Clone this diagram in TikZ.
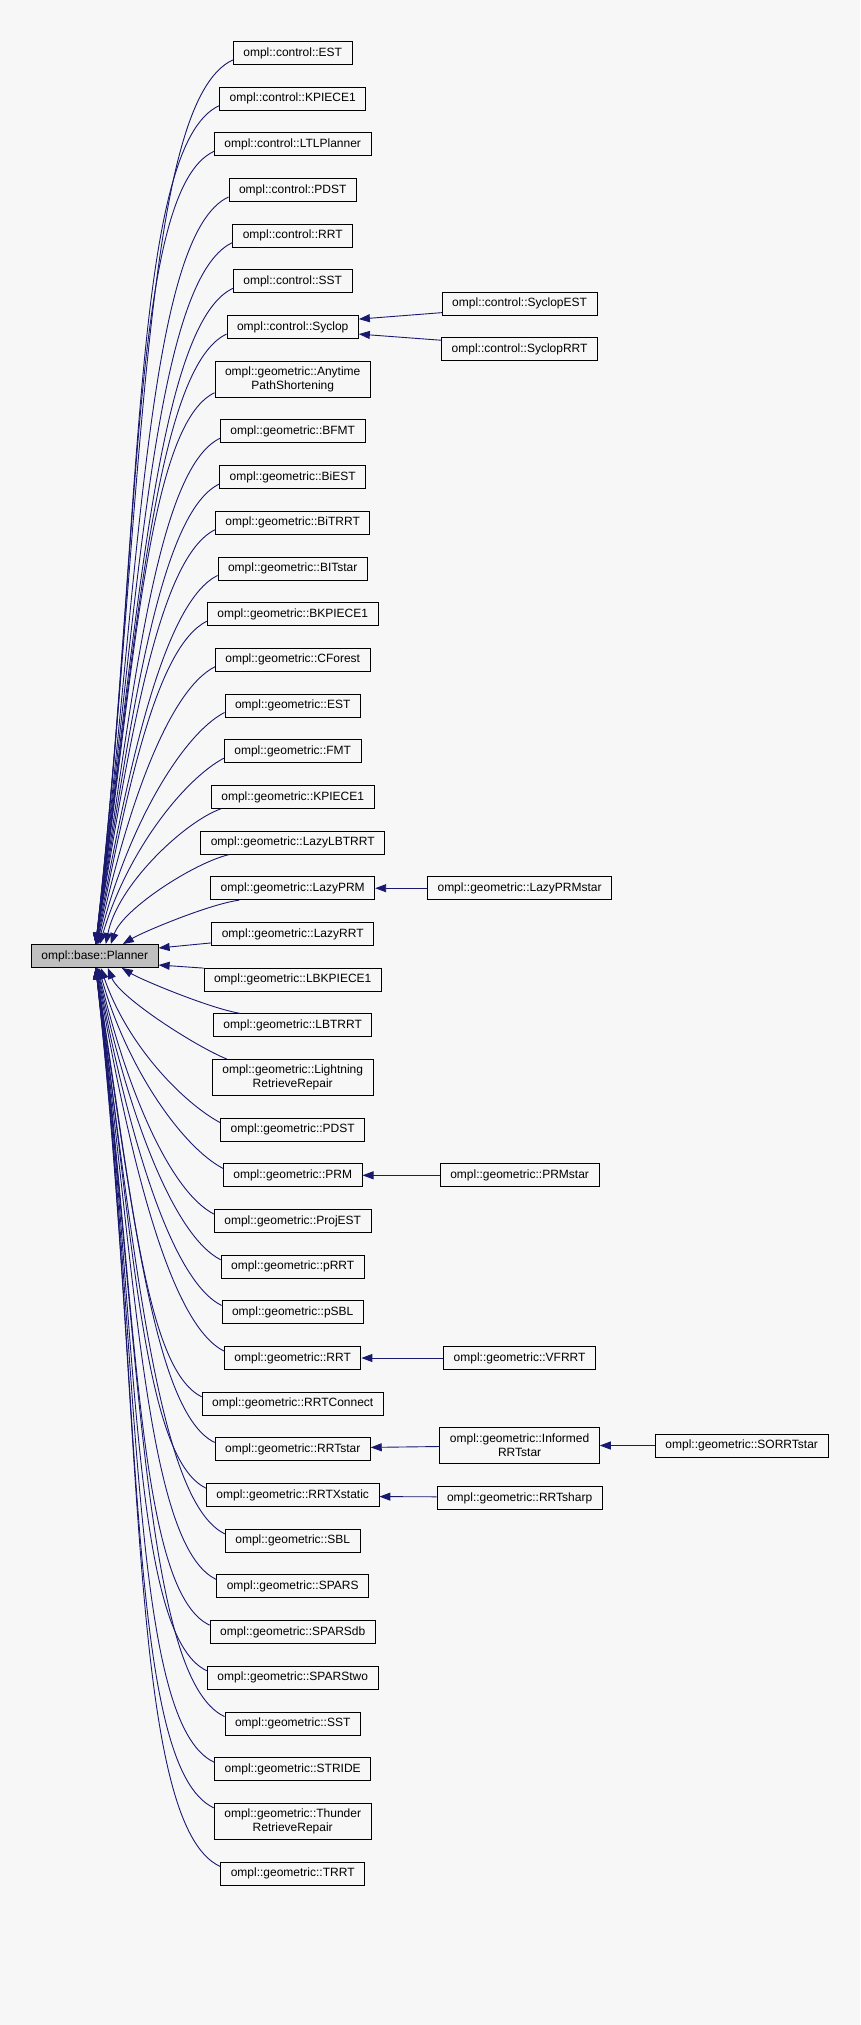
\documentclass[tikz,border=0pt]{standalone}
\usepackage{fontspec}
\setmainfont{Liberation Sans}
\usetikzlibrary{arrows.meta}
\definecolor{bgc}{HTML}{F7F7F7}
\definecolor{edgec}{HTML}{191970}
\definecolor{plfill}{HTML}{BFBFBF}
\begin{document}
\begin{tikzpicture}[x=1pt,y=-1pt,
  box/.style={draw=black, line width=0.9pt, inner xsep=10pt, inner ysep=2pt,
    minimum height=23pt, font=\fontsize{12}{14}\selectfont, align=center, text=black},
  box2/.style={box, minimum height=36pt},
  edge/.style={draw=edgec, line width=0.9pt, -{Triangle[length=11pt,width=8pt]}},
]
\fill[bgc] (0,0) rectangle (860,2025);
\useasboundingbox (0,0) rectangle (860,2025);

% base node
\node[box, fill=plfill] (pl) at (94.8,956) {ompl::base::Planner};

% left column
\node[box] (n1) at (292.7,53) {ompl::control::EST};
\node[box] (n2) at (292.7,98.7) {ompl::control::KPIECE1};
\node[box] (n3) at (292.7,144.4) {ompl::control::LTLPlanner};
\node[box] (n4) at (292.7,190) {ompl::control::PDST};
\node[box] (n5) at (292.7,235.7) {ompl::control::RRT};
\node[box] (n6) at (292.7,281.4) {ompl::control::SST};
\node[box] (n7) at (292.7,327.1) {ompl::control::Syclop};
\node[box2] (n8) at (292.7,379.3) {ompl::geometric::Anytime\\PathShortening};
\node[box] (n9) at (292.7,431.4) {ompl::geometric::BFMT};
\node[box] (n10) at (292.7,477.1) {ompl::geometric::BiEST};
\node[box] (n11) at (292.7,522.8) {ompl::geometric::BiTRRT};
\node[box] (n12) at (292.7,568.5) {ompl::geometric::BITstar};
\node[box] (n13) at (292.7,614.2) {ompl::geometric::BKPIECE1};
\node[box] (n14) at (292.7,659.8) {ompl::geometric::CForest};
\node[box] (n15) at (292.7,705.5) {ompl::geometric::EST};
\node[box] (n16) at (292.7,751.2) {ompl::geometric::FMT};
\node[box] (n17) at (292.7,796.9) {ompl::geometric::KPIECE1};
\node[box] (n18) at (292.7,842.6) {ompl::geometric::LazyLBTRRT};
\node[box] (n19) at (292.7,888.2) {ompl::geometric::LazyPRM};
\node[box] (n20) at (292.7,933.9) {ompl::geometric::LazyRRT};
\node[box] (n21) at (292.7,979.6) {ompl::geometric::LBKPIECE1};
\node[box] (n22) at (292.7,1025.3) {ompl::geometric::LBTRRT};
\node[box2] (n23) at (292.7,1077.5) {ompl::geometric::Lightning\\RetrieveRepair};
\node[box] (n24) at (292.7,1129.6) {ompl::geometric::PDST};
\node[box] (n25) at (292.7,1175.3) {ompl::geometric::PRM};
\node[box] (n26) at (292.7,1221.0) {ompl::geometric::ProjEST};
\node[box] (n27) at (292.7,1266.7) {ompl::geometric::pRRT};
\node[box] (n28) at (292.7,1312.4) {ompl::geometric::pSBL};
\node[box] (n29) at (292.7,1358.0) {ompl::geometric::RRT};
\node[box] (n30) at (292.7,1403.7) {ompl::geometric::RRTConnect};
\node[box] (n31) at (292.7,1449.4) {ompl::geometric::RRTstar};
\node[box] (n32) at (292.7,1495.1) {ompl::geometric::RRTXstatic};
\node[box] (n33) at (292.7,1540.8) {ompl::geometric::SBL};
\node[box] (n34) at (292.7,1586.4) {ompl::geometric::SPARS};
\node[box] (n35) at (292.7,1632.1) {ompl::geometric::SPARSdb};
\node[box] (n36) at (292.7,1677.8) {ompl::geometric::SPARStwo};
\node[box] (n37) at (292.7,1723.5) {ompl::geometric::SST};
\node[box] (n38) at (292.7,1769.2) {ompl::geometric::STRIDE};
\node[box2] (n39) at (292.7,1821.3) {ompl::geometric::Thunder\\RetrieveRepair};
\node[box] (n40) at (292.7,1873.5) {ompl::geometric::TRRT};

% right columns
\node[box] (r1) at (519.6,303.7) {ompl::control::SyclopEST};
\node[box] (r2) at (519.6,349.2) {ompl::control::SyclopRRT};
\node[box] (r3) at (519.6,888.2) {ompl::geometric::LazyPRMstar};
\node[box] (r4) at (519.6,1175.3) {ompl::geometric::PRMstar};
\node[box] (r5) at (519.6,1358.0) {ompl::geometric::VFRRT};
\node[box2] (r6) at (519.6,1445.5) {ompl::geometric::Informed\\RRTstar};
\node[box] (r7) at (519.6,1498.3) {ompl::geometric::RRTsharp};
\node[box] (r8) at (741.7,1445.5) {ompl::geometric::SORRTstar};

% edges from upper children
\foreach \n/\d/\xo in {n1/885.5/1, n2/839.8/1, n3/794.1/1, n4/748.5/1, n5/702.8/1,
  n6/657.1/1, n7/611.4/1, n8/552.7/1, n9/507.1/1, n10/461.4/1, n11/415.7/1,
  n12/370/1.5, n13/324.3/2, n14/278.7/2.5, n15/233/3.5, n16/187.3/5}{
  \draw[edge] ([yshift=5pt]\n.south west) .. controls +({-25-0.075*\d},{15+0.03*\d})
    and +({0.03*\d+22},{-0.5*\d}) .. ([xshift=\xo pt]pl.north);
}
\draw[edge] ([xshift=10pt]n17.south west) .. controls +(-35,12) and +(12,-60) .. ([xshift=11pt]pl.north);
\draw[edge] ([xshift=29pt]n18.south west) .. controls +(-35,8) and +(12,-35) .. ([xshift=16pt]pl.north);
\draw[edge] ([xshift=29pt]n19.south west) .. controls +(-30,4) and +(20,-12) .. ([xshift=28pt]pl.north);
\draw[edge] ([yshift=-9pt]n20.west) -- ([yshift=8pt]pl.east);
\draw[edge] ([yshift=11.5pt]n21.west) -- ([yshift=-9pt]pl.east);
\draw[edge] ([xshift=27pt]n22.north west) .. controls +(-30,-5) and +(20,12) .. ([xshift=27pt]pl.south);
\draw[edge] ([xshift=15pt]n23.north west) .. controls +(-30,-12) and +(12,30) .. ([xshift=13pt]pl.south);

% edges from lower children
\foreach \n/\d/\xo in {n24/155.8/6, n25/201.5/4, n26/247.2/3, n27/292.9/2.5, n28/338.6/2,
  n29/384.2/1.5, n30/429.9/1, n31/475.6/1, n32/521.3/1, n33/567/1, n34/612.6/1,
  n35/658.3/1, n36/704/1, n37/749.7/1, n38/795.4/1, n39/841/1, n40/899.7/1}{
  \draw[edge] ([yshift=-5pt]\n.north west) .. controls +({-25-0.075*\d},{-15-0.03*\d})
    and +({0.03*\d+22},{0.5*\d}) .. ([xshift=\xo pt]pl.south);
}

% second level edges
\draw[edge] ([yshift=3pt]r1.south west) -- ([yshift=8pt]n7.east);
\draw[edge] ([yshift=-3pt]r2.north west) -- ([yshift=-7pt]n7.east);
\draw[edge] (r3.west) -- (n19.east);
\draw[edge] (r4.west) -- (n25.east);
\draw[edge] (r5.west) -- (n29.east);
\draw[edge] ([yshift=-1pt]r6.west) -- ([yshift=2pt]n31.east);
\draw[edge] ([yshift=1.5pt]r7.west) -- ([yshift=-1.5pt]n32.east);
\draw[edge] (r8.west) -- (r6.east);
\end{tikzpicture}
\end{document}
